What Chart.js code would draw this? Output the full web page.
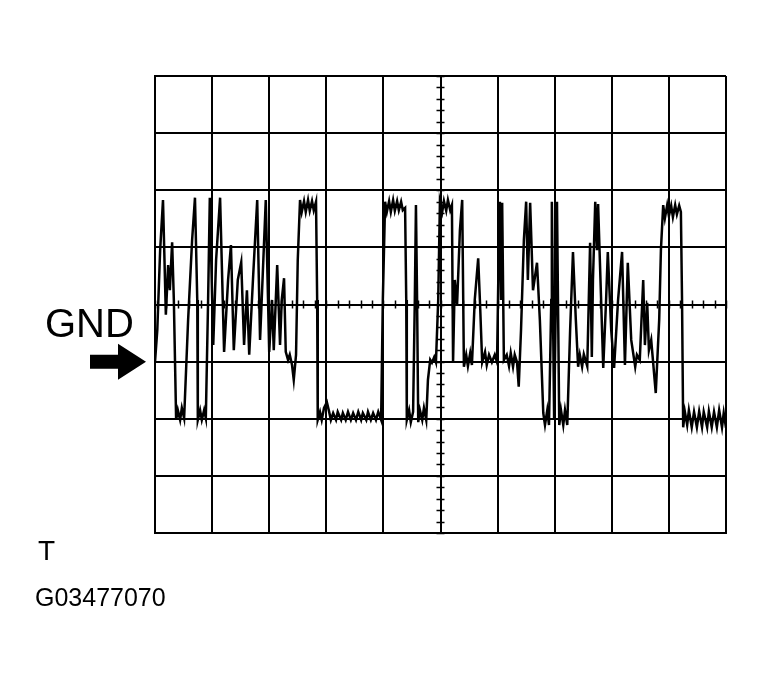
<!DOCTYPE html>
<html>
<head>
<meta charset="utf-8">
<script src="https://cdn.jsdelivr.net/npm/chart.js@4/dist/chart.umd.min.js"></script>
<style>
  body { margin: 0; background: #fff; }
  #wrap { position: relative; width: 764px; height: 681px; }
  canvas { position: absolute; left: 0; top: 0; }
  .lbl { position: absolute; font-family: "Liberation Sans", Arial, sans-serif; color: #000; line-height: 1; white-space: nowrap; }
</style>
</head>
<body>
<div id="wrap">
  <canvas id="scope" width="764" height="681"></canvas>
  <div class="lbl" style="left:45px; top:303px; font-size:40px;">GND</div>
  <div class="lbl" style="left:38px; top:537px; font-size:28px;">T</div>
  <div class="lbl" style="left:35px; top:585px; font-size:25px;">G03477070</div>
</div>
<script>
// screen is 10 x 8 divisions, values are read in divisions
var timeDivs = 10;
var voltDivs = 4;   // +/- from centre line
var gndLevel = -1;  // GND marker sits one division below centre

// time (div) of each trace point
var t = [
  0.00, 0.04, 0.09, 0.14, 0.19, 0.23, 0.26, 0.30, 0.33, 0.37, 0.40, 0.44, 0.47, 0.51, 0.58, 0.65, 0.70, 0.74, 0.75, 0.79,
  0.82, 0.86, 0.89, 0.93, 0.96, 1.02, 1.07, 1.14, 1.21, 1.28, 1.33, 1.38, 1.45, 1.51, 1.56, 1.61, 1.65, 1.72, 1.79, 1.84,
  1.89, 1.94, 2.00, 2.05, 2.08, 2.14, 2.19, 2.22, 2.26, 2.29, 2.33, 2.36, 2.40, 2.43, 2.47, 2.50, 2.54,
  2.57, 2.61, 2.64, 2.68, 2.71, 2.75, 2.78, 2.82, 2.84, 2.85,
  2.89, 2.92, 2.96, 3.01, 3.05, 3.08, 3.12, 3.17, 3.20, 3.26, 3.29, 3.34, 3.38, 3.43, 3.47, 3.52, 3.56, 3.61, 3.64, 3.70,
  3.73, 3.78, 3.82, 3.87, 3.91, 3.96, 3.99, 4.03,
  4.06, 4.10, 4.13, 4.17, 4.20, 4.24, 4.27, 4.31, 4.34, 4.38, 4.40, 4.41,
  4.45, 4.48, 4.52, 4.55, 4.57, 4.59, 4.61, 4.64, 4.68, 4.71, 4.75, 4.78, 4.82, 4.85, 4.89, 4.92, 4.96, 4.99,
  5.03, 5.06, 5.10, 5.13, 5.17, 5.20, 5.22,
  5.25, 5.29, 5.34, 5.38, 5.41, 5.45, 5.48, 5.52, 5.55, 5.60, 5.66, 5.69, 5.73, 5.78, 5.81, 5.85, 5.90, 5.95, 5.99, 6.02,
  6.04, 6.06, 6.08, 6.11, 6.16, 6.20, 6.23, 6.27, 6.30, 6.34, 6.37, 6.41, 6.46, 6.50, 6.53, 6.57, 6.62, 6.69, 6.74, 6.80,
  6.83, 6.87, 6.90, 6.94, 6.95, 6.99, 7.02, 7.04, 7.08, 7.11, 7.15, 7.18, 7.22, 7.27, 7.32, 7.37, 7.41, 7.44, 7.48, 7.51,
  7.57, 7.62, 7.65, 7.67, 7.71, 7.74, 7.76, 7.85, 7.90, 7.93, 7.99, 8.04, 8.11, 8.18, 8.23, 8.28, 8.34, 8.41, 8.44, 8.49,
  8.55, 8.58, 8.62, 8.65, 8.69, 8.72, 8.77, 8.83, 8.86,
  8.90, 8.93, 8.97, 9.00, 9.04, 9.07, 9.11, 9.14, 9.18, 9.21, 9.23, 9.25,
  9.28, 9.32, 9.35, 9.40, 9.44, 9.49, 9.53, 9.58, 9.61, 9.67, 9.70, 9.75, 9.79, 9.84, 9.88, 9.93, 9.96, 10.00
];

// level (div from centre) of each trace point
var v = [
  -1.01, -0.45, 0.95, 1.83, -0.18, 0.69, 0.25, 1.09, 0.08, -2.02, -1.85, -2.02, -1.81, -1.99, -0.27, 1.13, 1.87, 0.08, -2.02, -1.85,
  -2.02, -1.85, -1.99, 0.08, 1.87, -0.71, 0.78, 1.87, -0.83, 0.43, 1.04, -0.80, 0.43, 0.74, -0.71, 0.25, -0.88, 0.52, 1.83, -0.62,
  0.60, 1.83, -0.83, 0.08, -0.80, 0.69, -0.71, 0.08, 0.46, -0.83, -0.97, -0.88, -1.06, -1.32, -0.88, 0.78, 1.83,
  1.62, 1.81, 1.62, 1.83, 1.64, 1.81, 1.65, 1.80, 0.08, -2.02,
  -1.88, -2.02, -1.81, -1.71, -1.88, -2.02, -1.90, -2.02, -1.88, -2.02, -1.90, -2.02, -1.88, -2.02, -1.90, -2.02, -1.88, -2.02, -1.90, -2.02,
  -1.88, -2.02, -1.90, -2.02, -1.88, -2.02, 0.08, 1.80,
  1.62, 1.81, 1.62, 1.83, 1.64, 1.81, 1.65, 1.80, 1.65, 1.69, 0.08, -2.02,
  -1.85, -2.06, -1.88, 0.08, 1.74, 0.08, -2.06, -1.85, -2.02, -1.81, -2.02, -1.32, -0.97, -1.02, -0.92, -1.01, 0.08, 1.80,
  1.62, 1.81, 1.64, 1.83, 1.65, 1.74, -1.01,
  0.43, -0.01, 1.30, 1.83, -1.09, -0.88, -1.08, -0.85, -1.06, 0.08, 0.81, 0.08, -1.01, -0.83, -1.06, -0.88, -1.01, -0.88, -1.01, 0.95,
  1.80, 0.08, 1.78, -0.97, -0.88, -1.08, -0.85, -1.09, -0.88, -1.01, -1.44, -0.45, 1.13, 1.80, 0.43, 1.78, 0.25, 0.73, -0.27, -1.90,
  -2.11, -1.85, -2.11, 0.08, 1.80, -2.02, 0.08, 1.80, -2.11, -1.85, -2.11, -1.85, -2.11, -0.45, 0.92, -0.27, -1.09, -0.88, -1.09, -0.87,
  -1.08, 1.08, -0.92, 0.43, 1.80, 0.95, 1.76, -1.11, 0.08, 0.92, -0.45, -1.11, 0.08, 0.92, -1.06, 0.73, -0.62, -1.09, -0.88, -0.97,
  0.43, -0.71, 0.03, -0.80, -0.62, -0.97, -1.55, -0.27, 0.95,
  1.74, 1.51, 1.74, 1.55, 1.73, 1.53, 1.74, 1.58, 1.73, 1.62, 0.08, -2.15,
  -1.88, -2.11, -1.85, -2.15, -1.88, -2.15, -1.87, -2.15, -1.88, -2.15, -1.87, -2.15, -1.88, -2.15, -1.85, -2.15, -1.90, -2.16
];

var trace = t.map(function (x, i) { return { x: x, y: v[i] }; });

// small graticule marks on the two centre lines plus the GND arrow
var scopeMarks = {
  id: 'scopeMarks',
  afterDraw: function (chart) {
    var ctx = chart.ctx;
    var xs = chart.scales.x, ys = chart.scales.y;
    var cx = xs.getPixelForValue(timeDivs / 2);
    var cy = ys.getPixelForValue(0);
    ctx.save();
    ctx.strokeStyle = '#000';
    ctx.lineWidth = 1.5;
    ctx.beginPath();
    for (var i = 0; i <= timeDivs * 5; i++) {
      var px = Math.round(xs.getPixelForValue(i / 5)) + 0.5;
      ctx.moveTo(px, cy - 4);
      ctx.lineTo(px, cy + 4);
    }
    for (var j = -voltDivs * 5; j <= voltDivs * 5; j++) {
      var py = Math.round(ys.getPixelForValue(j / 5)) + 0.5;
      ctx.moveTo(cx - 4, py);
      ctx.lineTo(cx + 4, py);
    }
    ctx.stroke();

    // arrow pointing at GND level
    var gy = ys.getPixelForValue(gndLevel);
    var tip = chart.chartArea.left - 9;
    ctx.fillStyle = '#000';
    ctx.beginPath();
    ctx.moveTo(tip - 56, gy - 7);
    ctx.lineTo(tip - 28, gy - 7);
    ctx.lineTo(tip - 28, gy - 18);
    ctx.lineTo(tip, gy);
    ctx.lineTo(tip - 28, gy + 18);
    ctx.lineTo(tip - 28, gy + 7);
    ctx.lineTo(tip - 56, gy + 7);
    ctx.closePath();
    ctx.fill();
    ctx.restore();
  }
};

new Chart(document.getElementById('scope'), {
  type: 'scatter',
  data: {
    datasets: [{
      data: trace,
      showLine: true,
      borderColor: '#000',
      borderWidth: 2.5,
      pointRadius: 0,
      tension: 0,
      fill: false
    }]
  },
  options: {
    responsive: false,
    animation: false,
    layout: { padding: { left: 155, top: 76, right: 38, bottom: 148 } },
    plugins: { legend: { display: false }, tooltip: { enabled: false } },
    scales: {
      x: {
        type: 'linear', min: 0, max: timeDivs,
        ticks: { stepSize: 1, display: false },
        grid: { color: '#000', lineWidth: 2, drawTicks: false },
        border: { color: '#000', width: 2 }
      },
      y: {
        type: 'linear', min: -voltDivs, max: voltDivs,
        ticks: { stepSize: 1, display: false },
        grid: { color: '#000', lineWidth: 2, drawTicks: false },
        border: { color: '#000', width: 2 }
      }
    }
  },
  plugins: [scopeMarks]
});
</script>
</body>
</html>
